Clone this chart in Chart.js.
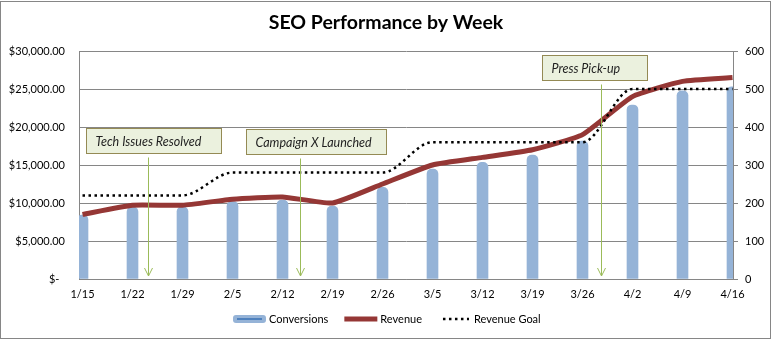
<!DOCTYPE html>
<html>
<head>
<meta charset="utf-8">
<title>SEO Performance by Week</title>
<script src="https://cdn.jsdelivr.net/npm/chart.js@4.4.1/dist/chart.umd.min.js"></script>
<style>
  html, body { margin: 0; padding: 0; background: #fff; }
  canvas { display: block; }
</style>
</head>
<body>
<canvas id="seoChart" width="772" height="339"></canvas>
<script>
const weeks = ['1/15', '1/22', '1/29', '2/5', '2/12', '2/19', '2/26', '3/5', '3/12', '3/19', '3/26', '4/2', '4/9', '4/16'];
const conversions = [168, 189, 190, 204, 208, 192, 241, 289, 307, 326, 363, 458, 495, 506];
const revenue = [8500, 9700, 9700, 10500, 10800, 10000, 12500, 15000, 16000, 17000, 19000, 24000, 26000, 26500];
const revenueGoal = [11000, 11000, 11000, 14000, 14000, 14000, 14000, 18000, 18000, 18000, 18000, 25000, 25000, 25000];

// callouts: text, week index the arrow points at, box span (week index), box top ($)
const noteLabels = ['Tech Issues Resolved', 'Campaign X Launched', 'Press Pick-up'];
const noteWeek = [1.31, 4.34, 10.36];
const noteSpan = [[0.07, 2.77], [3.27, 6.07], [9.19, 11.29]];
const noteTop = [19900, 19700, 29500];

const gridGray = '#868686';
Chart.defaults.font.family = 'Lato, "Open Sans", sans-serif';
Chart.defaults.color = '#000';

const points = (values) => values.map((v, i) => ({x: i, y: v}));

// grey frame round the whole chart
const chartFrame = {
    id: 'chartFrame',
    beforeDraw(chart) {
        const ctx = chart.ctx;
        ctx.save();
        ctx.strokeStyle = gridGray;
        ctx.lineWidth = 1;
        ctx.strokeRect(0.5, 1.5, chart.width - 2, chart.height - 2);
        ctx.restore();
    }
};

const callouts = {
    id: 'callouts',
    afterDatasetsDraw(chart) {
        const {ctx, scales: {x, y}} = chart;
        const h = 25;
        ctx.save();
        ctx.font = 'italic 12.5px Lato, "Open Sans", sans-serif';
        ctx.textBaseline = 'middle';
        noteLabels.forEach((text, i) => {
            const left = Math.round(x.getPixelForValue(noteSpan[i][0])) + 0.5;
            const right = Math.round(x.getPixelForValue(noteSpan[i][1])) + 0.5;
            const top = Math.round(y.getPixelForValue(noteTop[i])) + 0.5;
            ctx.fillStyle = '#ebf1de';
            ctx.fillRect(left, top, right - left, h);
            ctx.strokeStyle = '#948a54';
            ctx.lineWidth = 1;
            ctx.strokeRect(left, top, right - left, h);
            ctx.fillStyle = '#1f1f1f';
            ctx.fillText(text, left + 9, top + h / 2 + 1);

            const ax = Math.round(x.getPixelForValue(noteWeek[i])) + 0.5;
            const tip = y.getPixelForValue(0) - 3;
            ctx.strokeStyle = '#9bbb59';
            ctx.beginPath();
            ctx.moveTo(ax, top + h + 4);
            ctx.lineTo(ax, tip);
            ctx.moveTo(ax - 4, tip - 8);
            ctx.lineTo(ax, tip);
            ctx.lineTo(ax + 4, tip - 8);
            ctx.stroke();
        });
        ctx.restore();
    }
};

// legend drawn by hand so the Conversions key looks like Excel's
const seriesKey = {
    id: 'seriesKey',
    afterDraw(chart) {
        const ctx = chart.ctx;
        const labels = chart.data.datasets.map(ds => ds.label);
        const sym = 33, gapText = 3, gapItem = 16, cy = 319;
        ctx.save();
        ctx.font = '11px Lato, "Open Sans", sans-serif';
        const widths = labels.map(t => sym + gapText + ctx.measureText(t).width);
        const total = widths.reduce((a, b) => a + b, 0) + gapItem * (labels.length - 1);
        let cx = Math.round((chart.width - total) / 2) + 1;
        labels.forEach((text, i) => {
            if (i === 0) {
                ctx.fillStyle = '#95b3d7';
                ctx.beginPath();
                ctx.roundRect(cx, cy - 4, sym, 8, 3);
                ctx.fill();
                ctx.strokeStyle = '#4f81bd';
                ctx.lineWidth = 2;
                ctx.beginPath();
                ctx.moveTo(cx + 4, cy);
                ctx.lineTo(cx + sym - 4, cy);
                ctx.stroke();
            } else if (i === 1) {
                ctx.strokeStyle = '#953735';
                ctx.lineWidth = 5;
                ctx.beginPath();
                ctx.moveTo(cx, cy);
                ctx.lineTo(cx + sym, cy);
                ctx.stroke();
            } else {
                ctx.strokeStyle = '#000';
                ctx.lineWidth = 2.5;
                ctx.setLineDash([2.5, 3.5]);
                ctx.beginPath();
                ctx.moveTo(cx + 5, cy);
                ctx.lineTo(cx + sym - 2, cy);
                ctx.stroke();
                ctx.setLineDash([]);
            }
            ctx.fillStyle = '#000';
            ctx.textBaseline = 'middle';
            ctx.fillText(text, cx + sym + gapText, cy);
            cx += widths[i] + gapItem;
        });
        ctx.restore();
    }
};

new Chart(document.getElementById('seoChart'), {
    data: {
        datasets: [{
            type: 'bar',
            label: 'Conversions',
            data: points(conversions),
            yAxisID: 'y1',
            backgroundColor: '#95b3d7',
            barThickness: 11,
            borderRadius: 5,
            order: 3,
            clip: 0
        }, {
            type: 'line',
            label: 'Revenue',
            data: points(revenue),
            yAxisID: 'y',
            borderColor: '#953735',
            borderWidth: 5,
            pointRadius: 0,
            tension: 0.15,
            order: 2,
            clip: 0
        }, {
            type: 'line',
            label: 'Revenue Goal',
            data: points(revenueGoal),
            yAxisID: 'y',
            borderColor: '#000',
            borderWidth: 2.5,
            borderDash: [2.5, 3.5],
            pointRadius: 0,
            cubicInterpolationMode: 'monotone',
            order: 1,
            clip: 0
        }]
    },
    options: {
        responsive: false,
        animation: false,
        layout: { padding: 0 },
        plugins: {
            legend: { display: false },
            tooltip: { enabled: false },
            title: {
                display: true,
                text: 'SEO Performance by Week',
                color: '#000',
                font: { size: 19.5, weight: 'bold' },
                padding: { top: 11, bottom: 16.6 }
            }
        },
        scales: {
            x: {
                type: 'linear',
                offset: false,
                min: -0.07,
                max: 13.01,
                afterFit(scale) { scale.height = 60; },
                ticks: {
                    stepSize: 1,
                    maxTicksLimit: 20,
                    includeBounds: false,
                    autoSkip: false,
                    maxRotation: 0,
                    padding: 9,
                    font: { size: 11 },
                    callback: (v) => weeks[v] ?? ''
                },
                grid: { display: false, drawTicks: false, offset: false },
                border: { display: true, color: gridGray }
            },
            y: {
                position: 'left',
                min: 0,
                max: 30000,
                afterFit(scale) { scale.width = 79; },
                ticks: {
                    stepSize: 5000,
                    padding: 14,
                    font: { size: 11 },
                    callback: (v) => v === 0 ? '$-  ' :
                        '$' + v.toLocaleString('en-US', {minimumFractionDigits: 2, maximumFractionDigits: 2})
                },
                grid: { color: gridGray, drawTicks: false },
                border: { color: gridGray }
            },
            y1: {
                position: 'right',
                min: 0,
                max: 600,
                afterFit(scale) { scale.width = 39; },
                ticks: {
                    stepSize: 100,
                    padding: 7,
                    font: { size: 11 }
                },
                grid: { drawOnChartArea: false, color: gridGray, tickLength: 5 },
                border: { color: gridGray }
            }
        }
    },
    plugins: [chartFrame, callouts, seriesKey]
});
</script>
</body>
</html>
